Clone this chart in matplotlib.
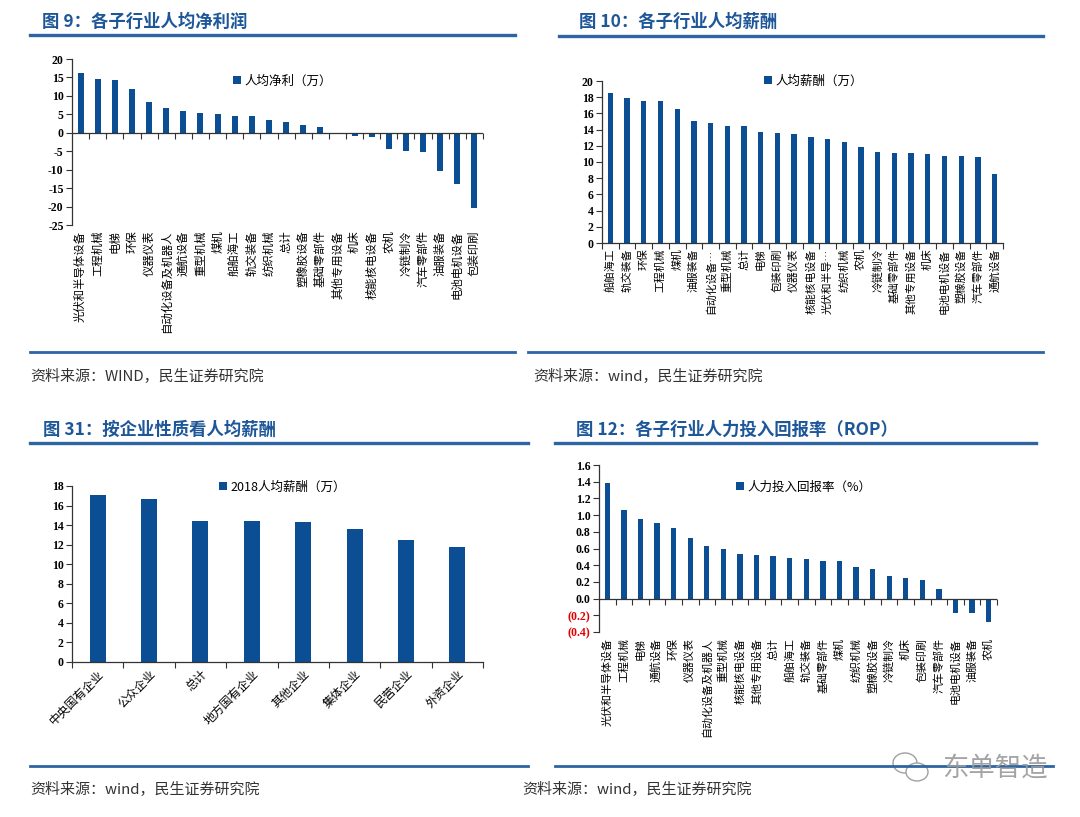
import matplotlib
matplotlib.use('Agg')
import matplotlib.pyplot as plt
from matplotlib.lines import Line2D
from matplotlib.patches import Ellipse
import numpy as np

plt.rcParams['font.family'] = ['Noto Sans CJK SC', 'DejaVu Sans']

W, H = 1080, 817
BAR = '#0b4e93'
BLUE = '#1d5799'
LINE = '#2c65a2'
NUM_FONT = {'family': 'Liberation Serif', 'weight': 'bold', 'size': 8.5}

# 图9 各子行业人均净利润
profit_cats = ['光伏和半导体设备', '工程机械', '电梯', '环保', '仪器仪表', '自动化设备及机器人',
               '通航设备', '重型机械', '煤机', '船舶海工', '轨交装备', '纺织机械', '总计',
               '塑橡胶设备', '基础零部件', '其他专用设备', '机床', '核能核电设备', '农机',
               '冷链制冷', '汽车零部件', '油服装备', '电池电机设备', '包装印刷']
profit_vals = [16.2, 14.6, 14.2, 11.8, 8.3, 6.7, 6.0, 5.3, 5.1, 4.6, 4.5, 3.5, 2.8,
               2.1, 1.45, -0.35, -0.9, -1.1, -4.4, -4.9, -5.3, -10.4, -14.0, -20.4]

# 图10 各子行业人均薪酬
salary_cats = ['船舶海工', '轨交装备', '环保', '工程机械', '煤机', '油服装备', '自动化设备…',
               '重型机械', '总计', '电梯', '包装印刷', '仪器仪表', '核能核电设备', '光伏和半导…',
               '纺织机械', '农机', '冷链制冷', '基础零部件', '其他专用设备', '机床',
               '电池电机设备', '塑橡胶设备', '汽车零部件', '通航设备']
salary_vals = [18.5, 17.85, 17.57, 17.5, 16.5, 15.1, 14.8, 14.5, 14.5, 13.7, 13.6, 13.5,
               13.1, 12.85, 12.5, 11.8, 11.2, 11.15, 11.1, 10.95, 10.75, 10.7, 10.66, 8.5]

# 图31 按企业性质看人均薪酬
owner_cats = ['中央国有企业', '公众企业', '总计', '地方国有企业', '其他企业', '集体企业',
              '民营企业', '外资企业']
owner_vals = [17.1, 16.7, 14.44, 14.4, 14.27, 13.6, 12.46, 11.8]

# 图12 各子行业人力投入回报率
rop_cats = ['光伏和半导体设备', '工程机械', '电梯', '通航设备', '环保', '仪器仪表',
            '自动化设备及机器人', '重型机械', '核能核电设备', '其他专用设备', '总计', '船舶海工',
            '轨交装备', '基础零部件', '煤机', '纺织机械', '塑橡胶设备', '冷链制冷', '机床',
            '包装印刷', '汽车零部件', '电池电机设备', '油服装备', '农机']
rop_vals = [1.39, 1.06, 0.956, 0.904, 0.84, 0.728, 0.632, 0.596, 0.536, 0.528, 0.508,
            0.492, 0.472, 0.456, 0.452, 0.38, 0.352, 0.268, 0.248, 0.22, 0.116,
            -0.168, -0.168, -0.276]

fig = plt.figure(figsize=(W / 100, H / 100), dpi=100)


def box(x0, y0, x1, y1):
    return [x0 / W, 1 - y1 / H, (x1 - x0) / W, (y1 - y0) / H]


def hline(x0, x1, y, lw=2.4):
    fig.add_artist(Line2D([x0 / W, x1 / W], [1 - y / H, 1 - y / H], color=LINE, lw=lw))


def header(x, y, text):
    fig.text(x / W, 1 - y / H, text, color=BLUE, fontsize=12.5, fontweight='bold',
             va='center', ha='left')


def source(x, y, text):
    fig.text(x / W, 1 - y / H, text, fontsize=10.8, va='center', ha='left', color='#333333')


def bar_panel(rect, cats, vals, ylim, step, width, label, leg_xy, fs, rot=90):
    ax = fig.add_axes(box(*rect))
    x = np.arange(len(cats))
    ax.bar(x, vals, width=width, color=BAR, label=label)
    ax.set_xlim(-0.5, len(cats) - 0.5)
    ax.set_ylim(*ylim)
    ax.set_yticks(np.arange(ylim[0], ylim[1] + step / 2, step))
    for s in ['top', 'right']:
        ax.spines[s].set_visible(False)
    ax.spines['left'].set_color('#333333')
    ax.spines['left'].set_linewidth(0.9)
    ax.tick_params(axis='y', direction='out', length=4, width=0.8, color='#333333', pad=2)
    ax.set_xticks(x)
    if rot == 90:
        ax.set_xticklabels(cats, rotation=90, fontsize=fs, ha='center', va='top')
    else:
        ax.set_xticklabels(cats, rotation=rot, fontsize=fs, ha='right', va='top',
                           rotation_mode='anchor')
    ax.tick_params(axis='x', length=0, pad=4)
    edges = np.arange(len(cats) + 1) - 0.5
    if ylim[0] < 0:
        # zero line with short ticks between the bars, labels stay at the bottom
        ax.spines['bottom'].set_visible(False)
        ax.axhline(0, color='#333333', lw=0.9)
        ax.plot(edges[1:], np.zeros(len(cats)), ls='none', marker=3, ms=4, mew=0.8,
                color='#333333', clip_on=False)
    else:
        ax.spines['bottom'].set_color('#333333')
        ax.spines['bottom'].set_linewidth(0.9)
        ax.set_xticks(edges, minor=True)
        ax.tick_params(axis='x', which='minor', length=4, width=0.8, color='#333333')
    ax.legend(loc='center left', bbox_to_anchor=(leg_xy[0] / W, 1 - leg_xy[1] / H),
              bbox_transform=fig.transFigure, frameon=False, handlelength=0.6,
              handleheight=0.6, handletextpad=0.35, borderpad=0, borderaxespad=0,
              fontsize=9)
    return ax


# panel 1
header(42, 22, '图 9：各子行业人均净利润')
hline(30, 515, 35)
ax1 = bar_panel((72, 59, 483, 225), profit_cats, profit_vals, (-25, 20), 5, 0.35,
                '人均净利（万）', (233, 81), 8.2)
ax1.set_yticklabels([f'{v:.0f}' for v in ax1.get_yticks()], fontdict=NUM_FONT)
hline(30, 515, 352, lw=2)
source(30, 377, '资料来源：WIND，民生证券研究院')

# panel 2
header(579, 22, '图 10：各子行业人均薪酬')
hline(559, 1043, 36)
ax2 = bar_panel((602, 81, 1003, 243), salary_cats, salary_vals, (0, 20), 2, 0.32,
                '人均薪酬（万）', (764, 81), 7.8)
ax2.set_yticklabels([f'{v:.0f}' for v in ax2.get_yticks()], fontdict=NUM_FONT)
hline(528, 1043, 352, lw=2)
source(533, 377, '资料来源：wind，民生证券研究院')

# panel 3
header(43, 430, '图 31：按企业性质看人均薪酬')
hline(30, 528, 443)
ax3 = bar_panel((72, 486, 483, 662), owner_cats, owner_vals, (0, 18), 2, 0.31,
                '2018人均薪酬（万）', (219, 487), 8.6, rot=45)
ax3.set_yticklabels([f'{v:.0f}' for v in ax3.get_yticks()], fontdict=NUM_FONT)
hline(30, 528, 766, lw=2)
source(30, 790, '资料来源：wind，民生证券研究院')

# panel 4
header(576, 430, '图 12：各子行业人力投入回报率（ROP）')
hline(555, 1036, 443)
ax4 = bar_panel((599, 465, 997, 632), rop_cats, rop_vals, (-0.4, 1.6), 0.2, 0.32,
                '人力投入回报率（%）', (736, 487), 7.9)
ticks4 = ax4.get_yticks()
ax4.set_yticklabels([f'({abs(v):.1f})' if v < -1e-9 else f'{abs(v):.1f}' for v in ticks4],
                    fontdict=NUM_FONT)
for t, v in zip(ax4.get_yticklabels(), ticks4):
    if v < -1e-9:
        t.set_color('#e00000')
hline(555, 1053, 766, lw=2)
source(522, 790, '资料来源：wind，民生证券研究院')

# watermark (wechat-like bubbles + name)
for cx, cy, w, h in [(905, 763, 24, 20), (917, 772, 22, 18)]:
    fig.add_artist(Ellipse((cx / W, 1 - cy / H), w / W, h / H, fill=True, fc='white',
                           ec='#a0a0a0', lw=1.0, transform=fig.transFigure))
fig.text(995 / W, 1 - 768 / H, '东单智造', fontsize=19, color='#9a9a9a', ha='center',
         va='center', alpha=0.9)

fig.savefig('out.png', dpi=100)
